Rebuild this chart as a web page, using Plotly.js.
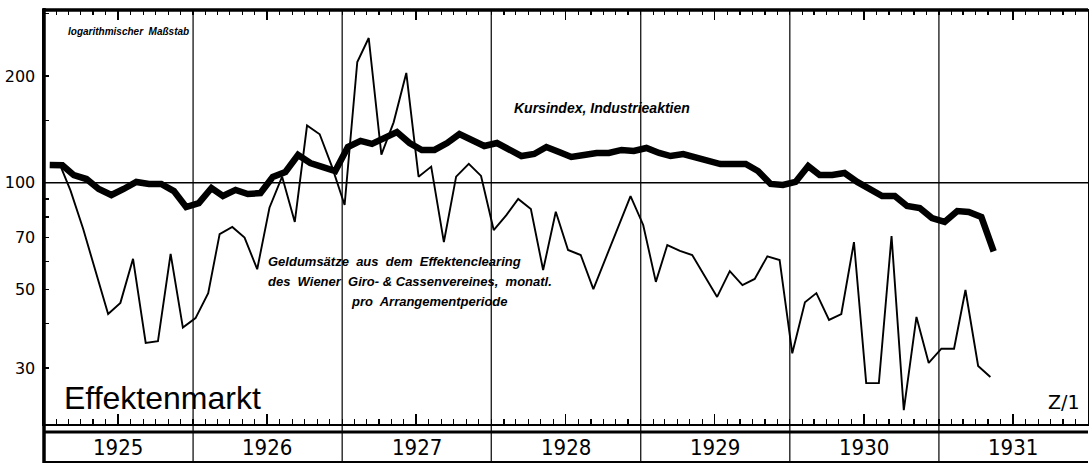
<!DOCTYPE html>
<html>
<head>
<meta charset="utf-8">
<script src="https://cdn.plot.ly/plotly-3.0.1.min.js"></script>
<style>
html,body{margin:0;padding:0;background:#fff;}
#chart{width:1089px;height:465px;}
</style>
</head>
<body>
<div id="chart"></div>
<script>
// ---- data ----
const years = ['1925','1926','1927','1928','1929','1930','1931'];

// Geldumsätze aus dem Effektenclearing, monthly, Feb 1925 .. May 1931
const geldStart = [1925, 2];
const geldumsaetze = [
  114, 95, 74, 56, 42.6, 45.8, 61, 35.3, 35.7, 63, 39,
  41.5, 48.8, 71.6, 75, 70, 57, 85, 104, 77.5, 145, 137, 111,
  86.5, 219, 256, 120, 148, 204, 104, 111, 68, 104, 113, 104.5,
  73.5, 81, 90, 84.3, 56.7, 82.8, 64.6, 62.5, 50.1, 61, 75, 91.7,
  76, 52.5, 66.7, 64.2, 62.5, 54.5, 47.6, 56.3, 51.4, 53.5, 62, 60.5,
  33, 46, 48.8, 41, 42.6, 68, 27.2, 27.2, 70.7, 22.8, 41.8, 31,
  34, 34, 49.8, 30.4, 28.3
];

// Kursindex, Industrieaktien, monthly, Jan 1925 .. May 1931
const kursStart = [1925, 1];
const kursindex = [
  112.2, 112, 105, 102.4, 96, 92.3, 96, 100.5, 99.2, 99.2, 94.7, 85.4,
  87.6, 96.6, 91.7, 95.4, 92.9, 93.5, 103.8, 107.2, 119.7, 113.6, 110.7, 107.9,
  126.1, 131.2, 128.7, 133.7, 139, 129.4, 123.7, 123.7, 129.4, 137.2, 132, 126.9,
  129.4, 123.7, 118.9, 120.5, 126.1, 122, 118.2, 119.7, 121.3, 121.3, 123.7, 122.9,
  125.3, 121.3, 118.9, 120.5, 118.2, 115.2, 112.9, 112.9, 112.9, 107.9, 99.2, 98.5,
  100.5, 111.4, 105.1, 105.1, 106.5, 100.5, 96, 91.7, 91.7, 86, 84.8, 79.5,
  77.5, 83.2, 82.7, 80, 64
];

const yTickVals = [30, 40, 50, 60, 70, 80, 90, 100, 150, 200, 300];
const yTickText = ['30', '', '50', '', '70', '', '', '100', '', '200', ''];

// ---- helpers ----
function pad(n){ return (n < 10 ? '0' : '') + n; }
function monthDates(start, count, day){
  const out = [];
  let y = start[0], m = start[1];
  for (let i = 0; i < count; i++){
    out.push(y + '-' + pad(m) + '-' + pad(day));
    m++; if (m > 12){ m = 1; y++; }
  }
  return out;
}

const geldX = monthDates(geldStart, geldumsaetze.length, 7);
const kursX = monthDates(kursStart, kursindex.length, 15);

const X0 = '1925-01-01', X1 = '1932-01-01';

const traces = [
  { x: [X0, X1], y: [100, 100], mode: 'lines', line: {color: '#000', width: 1.6},
    hoverinfo: 'skip', showlegend: false },
  { x: kursX, y: kursindex, mode: 'lines', name: 'Kursindex, Industrieaktien',
    line: {color: '#000', width: 6.5}, showlegend: false },
  { x: geldX, y: geldumsaetze, mode: 'lines', name: 'Geldumsätze',
    line: {color: '#000', width: 1.9}, showlegend: false }
];

// paper-y helpers for the plot area (top 10px, bottom 424px)
const PT = 10, PB = 424, PH = PB - PT;
function py(pix){ return (PB - pix) / PH; }
const PL = 44, PW = 1044;
function px(pix){ return (pix - PL) / PW; }

const shapes = [];
// year gridlines (through plot and band)
for (let i = 1; i < years.length; i++){
  shapes.push({type: 'line', xref: 'x', yref: 'paper', x0: years[i] + '-01-01', x1: years[i] + '-01-01',
    y0: py(462), y1: 1, line: {color: '#000', width: 1.2}});
}
// frame
shapes.push({type: 'line', xref: 'paper', yref: 'paper', x0: 0, x1: 0, y0: py(463), y1: py(8), line: {color: '#000', width: 3.5}});
shapes.push({type: 'line', xref: 'paper', yref: 'paper', x0: 0, x1: 1, y0: 1, y1: 1, line: {color: '#000', width: 3.5}});
shapes.push({type: 'line', xref: 'paper', yref: 'paper', x0: 0, x1: 1, y0: py(432), y1: py(432), line: {color: '#000', width: 2.8}});
shapes.push({type: 'line', xref: 'paper', yref: 'paper', x0: 0, x1: 1, y0: py(462), y1: py(462), line: {color: '#000', width: 2.2}});

const italicFont = {family: 'Liberation Sans, Arial, sans-serif', color: '#000', style: 'italic', weight: 'bold'};

const annotations = [
  {xref: 'paper', yref: 'paper', x: px(66), y: py(31), xanchor: 'left', yanchor: 'middle', showarrow: false,
   text: 'logarithmischer  Maßstab', font: Object.assign({}, italicFont, {size: 10})},
  {xref: 'paper', yref: 'paper', x: px(512), y: py(108), xanchor: 'left', yanchor: 'middle', showarrow: false,
   text: 'Kursindex, Industrieaktien', font: Object.assign({}, italicFont, {size: 14})},
  {xref: 'paper', yref: 'paper', x: px(266), y: py(261), xanchor: 'left', yanchor: 'middle', showarrow: false,
   text: 'Geldumsätze  aus  dem  Effektenclearing', font: Object.assign({}, italicFont, {size: 13})},
  {xref: 'paper', yref: 'paper', x: px(266), y: py(281), xanchor: 'left', yanchor: 'middle', showarrow: false,
   text: 'des  Wiener  Giro- &amp; Cassenvereines,  monatl.', font: Object.assign({}, italicFont, {size: 13})},
  {xref: 'paper', yref: 'paper', x: px(349), y: py(301), xanchor: 'left', yanchor: 'middle', showarrow: false,
   text: 'pro  Arrangementperiode', font: Object.assign({}, italicFont, {size: 13})},
  {xref: 'paper', yref: 'paper', x: px(62), y: py(398), xanchor: 'left', yanchor: 'middle', showarrow: false,
   text: 'Effektenmarkt', font: {family: 'Liberation Sans, Arial, sans-serif', size: 32, color: '#000'}},
  {xref: 'paper', yref: 'paper', x: px(1082), y: py(402), xanchor: 'right', yanchor: 'middle', showarrow: false,
   text: 'Z/1', font: {family: 'DejaVu Sans, sans-serif', size: 19, color: '#000'}}
];
years.forEach(function(yr){
  annotations.push({xref: 'x', yref: 'paper', x: yr + '-07-02', y: py(447), xanchor: 'center', yanchor: 'middle',
    showarrow: false, text: yr,
    font: {family: 'Liberation Sans Narrow, DejaVu Sans Condensed, sans-serif', size: 22, color: '#000'}});
});

const layout = {
  width: 1089, height: 465,
  margin: {l: PL, r: 1089 - PL - PW, t: PT, b: 465 - PB},
  paper_bgcolor: '#fff', plot_bgcolor: '#fff',
  showlegend: false,
  xaxis: {
    type: 'date', range: [X0, X1], showgrid: false, zeroline: false,
    showline: true, linecolor: '#000', linewidth: 1.5, mirror: 'ticks',
    ticks: 'inside', tick0: '1925-07-01', dtick: 'M12', ticklen: 10, tickwidth: 1.5, tickcolor: '#000',
    showticklabels: false,
    minor: {ticks: 'inside', tick0: '1925-01-01', dtick: 'M1', ticklen: 5, tickwidth: 1.2, tickcolor: '#000', showgrid: false}
  },
  yaxis: {
    type: 'log', range: [1.3191, 2.4873], showgrid: false, zeroline: false,
    showline: true, linecolor: '#000', linewidth: 2.5, mirror: true,
    ticks: 'inside', ticklen: 5, tickwidth: 1.3, tickcolor: '#000',
    tickvals: yTickVals, ticktext: yTickText, ticklabelstandoff: 3,
    tickfont: {family: 'DejaVu Sans, sans-serif', size: 16, color: '#000'}
  },
  shapes: shapes,
  annotations: annotations
};

Plotly.newPlot('chart', traces, layout, {staticPlot: true, displayModeBar: false});
</script>
</body>
</html>
